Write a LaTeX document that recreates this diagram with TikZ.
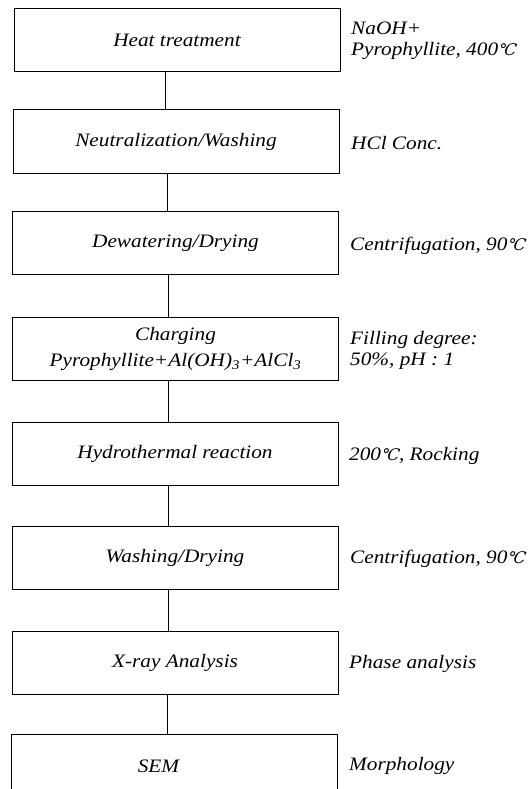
\documentclass[tikz,border=0pt]{standalone}
\usepackage{fontspec}
\setmainfont{Liberation Serif}[FakeStretch=1.12]
\newfontfamily\degfont{DejaVu Serif}[FakeSlant=0.15]
\newcommand\degC{{\degfont\fontsize{16}{16}\selectfont ℃}}
\begin{document}
\begin{tikzpicture}[x=1pt,y=-1pt,
  stepbox/.style={draw, line width=1pt, minimum width=326pt, minimum height=63pt,
    inner sep=0pt, align=center, font=\fontsize{19}{26}\selectfont\itshape},
  sidelabel/.style={anchor=west, inner sep=0pt, align=left,
    font=\fontsize{19}{21}\selectfont\itshape},
  link/.style={line width=0.9pt}]
\useasboundingbox (0,0) rectangle (528,789);
\clip (0,0) rectangle (528,789);
\node[stepbox] (b1) at (177,40.5) {Heat treatment};
\node[stepbox] (b2) at (176,141.5) {Neutralization/Washing};
\node[stepbox] (b3) at (175.5,243) {Dewatering/Drying};
\node[stepbox] (b4) at (175.5,349) {Charging\\Pyrophyllite+Al(OH)\textsubscript{3}+AlCl\textsubscript{3}};
\node[stepbox] (b5) at (175,454) {Hydrothermal reaction};
\node[stepbox] (b6) at (175,558) {Washing/Drying};
\node[stepbox] (b7) at (175,662.5) {X-ray Analysis};
\node[stepbox, minimum height=64pt] (b8) at (174.5,766) {SEM\hspace{32pt}};
\draw[link] ([xshift=-12pt]b1.south) -- ([xshift=-12pt]b1.south |- b2.north);
\draw[link] ([xshift=-9pt]b2.south) -- ([xshift=-9pt]b2.south |- b3.north);
\draw[link] ([xshift=-7pt]b3.south) -- ([xshift=-7pt]b3.south |- b4.north);
\draw[link] ([xshift=-7pt]b4.south) -- ([xshift=-7pt]b4.south |- b5.north);
\draw[link] ([xshift=-7pt]b5.south) -- ([xshift=-7pt]b5.south |- b6.north);
\draw[link] ([xshift=-7pt]b6.south) -- ([xshift=-7pt]b6.south |- b7.north);
\draw[link] ([xshift=-8pt]b7.south) -- ([xshift=-8pt]b7.south |- b8.north);
\node[sidelabel] (l1) at (351,41) {NaOH+\\Pyrophyllite, 400\degC};
\node[sidelabel] (l2) at (351,143) {HCl Conc.};
\node[sidelabel] (l3) at (350,246) {Centrifugation, 90\degC};
\node[sidelabel] (l4) at (350,350) {Filling degree:\\50\%, pH : 1};
\node[sidelabel] (l5) at (349,456) {200\degC, Rocking};
\node[sidelabel] (l6) at (350,559) {Centrifugation, 90\degC};
\node[sidelabel] (l7) at (349,664) {Phase analysis};
\node[sidelabel] (l8) at (349,766) {Morphology};
\end{tikzpicture}
\end{document}
